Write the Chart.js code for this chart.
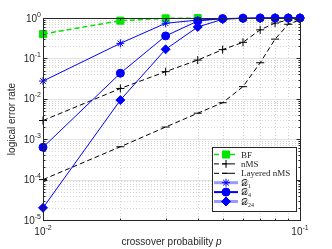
<!DOCTYPE html>
<html>
<head>
<meta charset="utf-8">
<script src="https://cdn.jsdelivr.net/npm/chart.js"></script>
<style>
html, body { margin: 0; padding: 0; background: #fff; }
#wrap { width: 332px; height: 249px; }
</style>
</head>
<body>
<div id="wrap"><canvas id="errChart" width="332" height="249"></canvas></div>
<script>
// crossover probabilities (x)
var pValues = [0.01, 0.02, 0.03, 0.04, 0.05, 0.06, 0.07, 0.08, 0.09, 0.1];

// logical error rates
var bfRates      = [0.40, 0.86, 0.98, 0.99];
var nmsRates     = [0.0029, 0.018, 0.047, 0.091, 0.165, 0.25, 0.51, 0.75, 0.89, 0.92];
var layeredRates = [0.0001, 0.00065, 0.002, 0.0044, 0.008, 0.020, 0.078, 0.30, 0.70, 0.90];
var d1Rates      = [0.0275, 0.236, 0.74, 0.89, 0.96, 0.98, 0.99, 1.0, 1.0, 1.0];
var d4Rates      = [0.00063, 0.043, 0.36, 0.84, 0.97, 0.99, 1.0, 1.0, 1.0, 1.0];
var d24Rates     = [0.00002, 0.0093, 0.168, 0.60, 0.93, 0.98, 0.99, 1.0, 1.0, 1.0];

var xTickExp = [-2, -1];
var yTickExp = [-5, -4, -3, -2, -1, 0];

var INK = '#262626';
var SANS = '"Liberation Sans", Arial, sans-serif';
var SERIF = '"Liberation Serif", "Times New Roman", serif';

function pts(vals) {
    return vals.map(function(v, i) { return { x: pValues[i], y: v }; });
}

// draws "10^exp" with a real superscript
function drawPow(ctx, exp, x, y, align) {
    var base = '10', sup = String(exp);
    ctx.font = '10px ' + SANS;
    var wb = ctx.measureText(base).width;
    ctx.font = '7px ' + SANS;
    var ws = ctx.measureText(sup).width;
    var x0 = align === 'right' ? x - wb - ws : x - (wb + ws) / 2;
    ctx.textAlign = 'left';
    ctx.textBaseline = 'alphabetic';
    ctx.font = '10px ' + SANS;
    ctx.fillText(base, x0, y);
    ctx.font = '7px ' + SANS;
    ctx.fillText(sup, x0 + wb, y - 5);
}

var matlabAxes = {
    id: 'matlabAxes',
    beforeDatasetsDraw: function(chart) {
        var ctx = chart.ctx, a = chart.chartArea;
        var xs = chart.scales.x, ys = chart.scales.y;
        ctx.save();
        ctx.lineWidth = 1;
        // minor grid (dotted)
        ctx.strokeStyle = '#d4d4d4';
        ctx.setLineDash([1, 2]);
        ctx.beginPath();
        for (var k = 2; k <= 9; k++) {
            var px = Math.round(xs.getPixelForValue(k * 0.01)) + 0.5;
            ctx.moveTo(px, a.top); ctx.lineTo(px, a.bottom);
            for (var d = -5; d <= -1; d++) {
                var py = Math.round(ys.getPixelForValue(k * Math.pow(10, d))) + 0.5;
                ctx.moveTo(a.left, py); ctx.lineTo(a.right, py);
            }
        }
        ctx.stroke();
        // major grid
        ctx.setLineDash([]);
        ctx.strokeStyle = '#e2e2e2';
        ctx.beginPath();
        yTickExp.forEach(function(e) {
            var py = Math.round(ys.getPixelForValue(Math.pow(10, e))) + 0.5;
            ctx.moveTo(a.left, py); ctx.lineTo(a.right, py);
        });
        ctx.stroke();
        ctx.restore();
    },
    afterDatasetsDraw: function(chart) {
        var ctx = chart.ctx, a = chart.chartArea;
        var xs = chart.scales.x, ys = chart.scales.y;
        var L = Math.round(a.left) + 0.5, R = Math.round(a.right) + 0.5;
        var T = Math.round(a.top) + 0.5, B = Math.round(a.bottom) + 0.5;
        ctx.save();
        ctx.strokeStyle = INK;
        ctx.lineWidth = 1;
        ctx.strokeRect(L, T, R - L, B - T);
        // inward ticks
        ctx.beginPath();
        for (var k = 1; k <= 10; k++) {
            var len = (k === 1 || k === 10) ? 4 : 2;
            var px = Math.round(xs.getPixelForValue(k * 0.01)) + 0.5;
            ctx.moveTo(px, B); ctx.lineTo(px, B - len);
            ctx.moveTo(px, T); ctx.lineTo(px, T + len);
        }
        for (var d = -5; d <= 0; d++) {
            for (var m = 1; m <= 9; m++) {
                var v = m * Math.pow(10, d);
                if (v > 1) break;
                var ln = m === 1 ? 4 : 2;
                var py = Math.round(ys.getPixelForValue(v)) + 0.5;
                ctx.moveTo(L, py); ctx.lineTo(L + ln, py);
                ctx.moveTo(R, py); ctx.lineTo(R - ln, py);
            }
        }
        ctx.stroke();
        // tick labels
        ctx.fillStyle = INK;
        yTickExp.forEach(function(e) {
            var py = ys.getPixelForValue(Math.pow(10, e));
            drawPow(ctx, e === 0 ? '0' : '-' + (-e), a.left - 2, py + 3.5, 'right');
        });
        xTickExp.forEach(function(e) {
            var px = xs.getPixelForValue(Math.pow(10, e));
            drawPow(ctx, '-' + (-e), px, 235, 'center');
        });
        // axis titles
        ctx.font = '10px ' + SANS;
        var t1 = 'crossover probability ';
        ctx.font = '10px ' + SANS;
        var w1 = ctx.measureText(t1).width;
        ctx.font = 'italic 10px ' + SANS;
        var w2 = ctx.measureText('p').width;
        var x0 = (a.left + a.right) / 2 - (w1 + w2) / 2;
        ctx.textAlign = 'left';
        ctx.textBaseline = 'alphabetic';
        ctx.font = '10px ' + SANS;
        ctx.fillText(t1, x0, 245);
        ctx.font = 'italic 10px ' + SANS;
        ctx.fillText('p', x0 + w1, 245);

        ctx.translate(12, (a.top + a.bottom) / 2);
        ctx.rotate(-Math.PI / 2);
        ctx.font = '10px ' + SANS;
        ctx.textAlign = 'center';
        ctx.textBaseline = 'middle';
        ctx.fillText('logical error rate', 0, 0);
        ctx.restore();
    },
    afterDraw: function(chart) {
        // legend box in the lower right, MATLAB style
        var ctx = chart.ctx;
        var items = [
            { ds: 0, text: 'BF' },
            { ds: 1, text: 'nMS' },
            { ds: 2, text: 'Layered nMS' },
            { ds: 3, text: '\uD835\uDC9F', sub: '1', lc: 'rgba(70,70,255,0.55)', lw: 3 },
            { ds: 4, text: '\uD835\uDC9F', sub: '4', lc: '#0000ff', lw: 2 },
            { ds: 5, text: '\uD835\uDC9F', sub: '24', lc: 'rgba(70,70,255,0.55)', lw: 3 }
        ];
        ctx.save();
        ctx.fillStyle = '#fff';
        ctx.fillRect(212.5, 147.5, 84, 64);
        ctx.strokeStyle = INK;
        ctx.lineWidth = 1;
        ctx.strokeRect(212.5, 147.5, 84, 64);
        items.forEach(function(it, i) {
            var ds = chart.data.datasets[it.ds];
            var y = 154.5 + i * 9.4;
            ctx.save();
            ctx.strokeStyle = it.lc || ds.borderColor;
            ctx.lineWidth = it.lw || ds.borderWidth;
            ctx.setLineDash(ds.borderDash || []);
            ctx.beginPath();
            ctx.moveTo(214, y); ctx.lineTo(238, y);
            ctx.stroke();
            ctx.setLineDash([]);
            ctx.strokeStyle = ds.pointBorderColor;
            ctx.fillStyle = ds.pointBackgroundColor;
            ctx.lineWidth = ds.pointBorderWidth;
            Chart.helpers.drawPoint(ctx, {
                pointStyle: ds.pointStyle, radius: ds.pointRadius,
                borderWidth: ds.pointBorderWidth, rotation: 0
            }, 226, y);
            ctx.restore();
            ctx.fillStyle = INK;
            ctx.textAlign = 'left';
            ctx.textBaseline = 'alphabetic';
            ctx.font = '9px ' + SERIF;
            ctx.fillText(it.text, 241, y + 3);
            if (it.sub) {
                var w = ctx.measureText(it.text).width;
                ctx.font = '6px ' + SERIF;
                ctx.fillText(it.sub, 241 + w, y + 5);
            }
        });
        ctx.restore();
    }
};

var ctx = document.getElementById('errChart').getContext('2d');
var chart = new Chart(ctx, {
    type: 'line',
    data: {
        datasets: [
            {
                label: 'BF', data: pts(bfRates), order: 6,
                borderColor: '#00e600', borderWidth: 1.5, borderDash: [5, 3],
                pointStyle: 'rect', pointRadius: 5, pointBorderWidth: 1,
                pointBackgroundColor: '#00e600', pointBorderColor: '#00e600'
            },
            {
                label: 'nMS', data: pts(nmsRates), order: 5,
                borderColor: '#000', borderWidth: 1, borderDash: [5, 3],
                pointStyle: 'cross', pointRadius: 4, pointBorderWidth: 1,
                pointBackgroundColor: '#000', pointBorderColor: '#000'
            },
            {
                label: 'Layered nMS', data: pts(layeredRates), order: 4,
                borderColor: '#000', borderWidth: 1, borderDash: [5, 3],
                pointStyle: 'line', pointRadius: 4, pointBorderWidth: 1,
                pointBackgroundColor: '#000', pointBorderColor: '#000'
            },
            {
                label: 'D1', data: pts(d1Rates), order: 3,
                borderColor: '#0000ff', borderWidth: 1,
                pointStyle: 'star', pointRadius: 4, pointBorderWidth: 1,
                pointBackgroundColor: '#0000ff', pointBorderColor: '#0000ff'
            },
            {
                label: 'D4', data: pts(d4Rates), order: 2,
                borderColor: '#0000ff', borderWidth: 1,
                pointStyle: 'circle', pointRadius: 4, pointBorderWidth: 1,
                pointBackgroundColor: '#0000ff', pointBorderColor: '#0000ff'
            },
            {
                label: 'D24', data: pts(d24Rates), order: 1,
                borderColor: '#0000ff', borderWidth: 1,
                pointStyle: 'rectRot', pointRadius: 4.5, pointBorderWidth: 1,
                pointBackgroundColor: '#0000ff', pointBorderColor: '#0000ff'
            }
        ]
    },
    options: {
        responsive: false,
        animation: false,
        clip: false,
        layout: { padding: { left: 43, right: 32, top: 18, bottom: 29 } },
        datasets: { line: { clip: false, tension: 0, fill: false } },
        plugins: { legend: { display: false }, tooltip: { enabled: false } },
        scales: {
            x: { type: 'logarithmic', min: 0.01, max: 0.1, display: false },
            y: { type: 'logarithmic', min: 1e-5, max: 1, display: false }
        }
    },
    plugins: [matlabAxes]
});
</script>
</body>
</html>
